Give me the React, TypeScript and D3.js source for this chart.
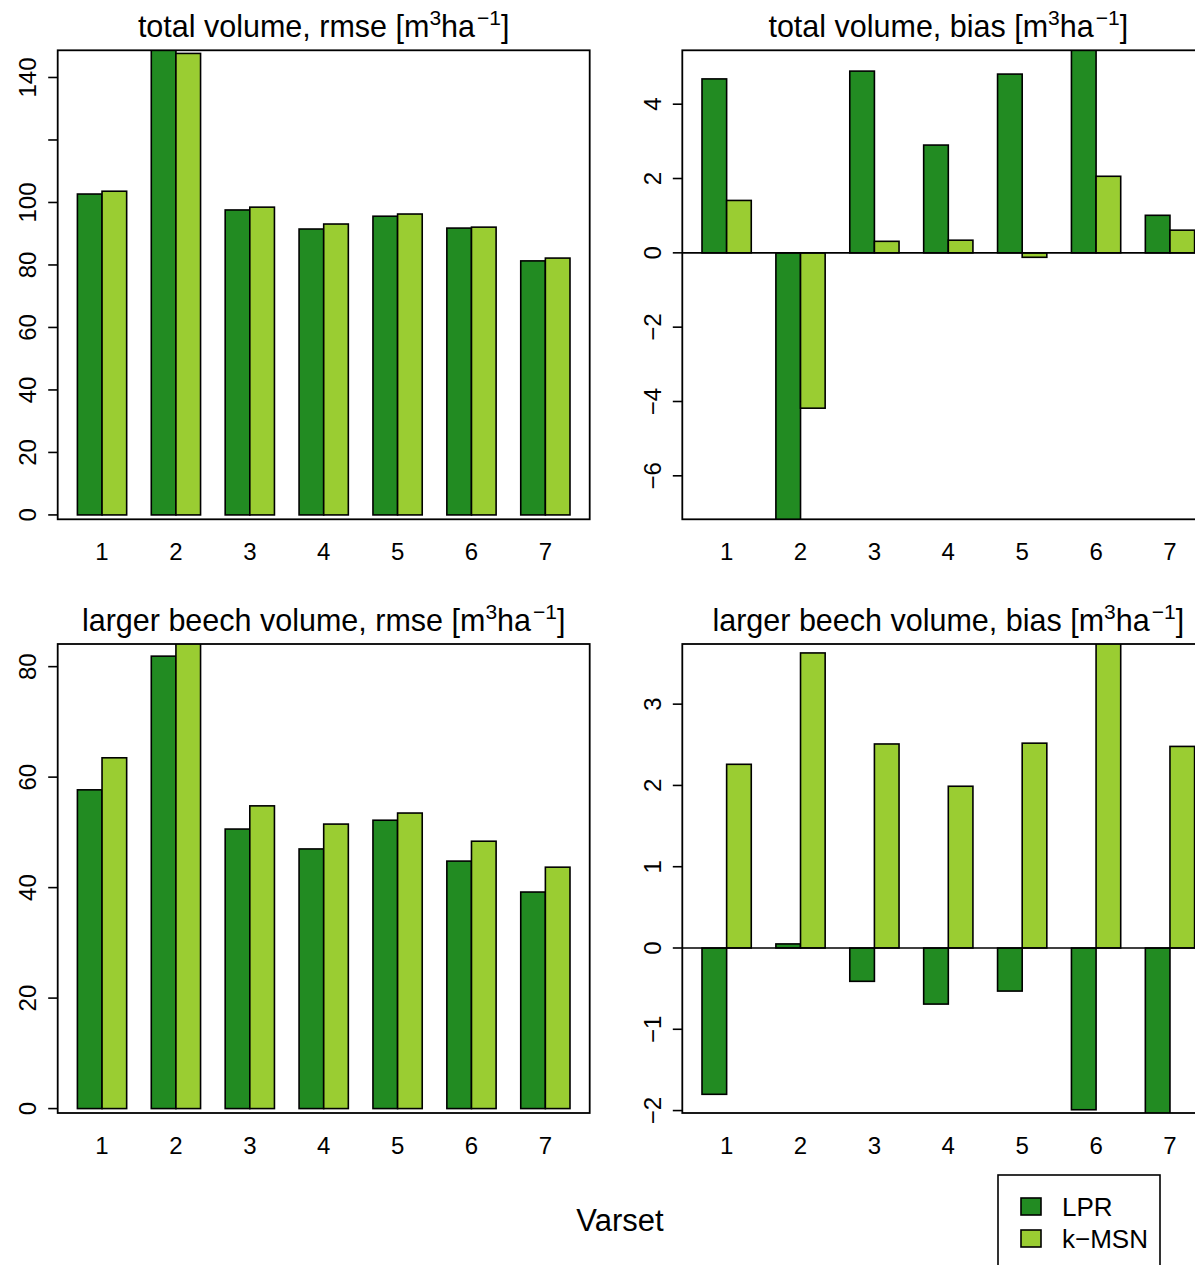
import React from "react";
import * as d3 from "d3";

const varsets = ["1", "2", "3", "4", "5", "6", "7"];
const seriesNames = ["LPR", "k−MSN"];
const seriesColors = ["#228B22", "#9ACD32"];

const totalRmseLPR = [102.7, 152, 97.6, 91.5, 95.6, 91.8, 81.3];
const totalRmseKMSN = [103.6, 147.7, 98.5, 93.1, 96.3, 92.1, 82.2];
const totalBiasLPR = [4.68, -7.6, 4.89, 2.9, 4.81, 5.7, 1.01];
const totalBiasKMSN = [1.41, -4.18, 0.31, 0.34, -0.12, 2.06, 0.61];
const beechRmseLPR = [57.7, 81.9, 50.6, 47.0, 52.2, 44.8, 39.2];
const beechRmseKMSN = [63.5, 86, 54.8, 51.5, 53.5, 48.4, 43.7];
const beechBiasLPR = [-1.8, 0.05, -0.41, -0.69, -0.53, -1.99, -2.1];
const beechBiasKMSN = [2.26, 3.63, 2.51, 1.99, 2.52, 3.9, 2.48];

const ticksTotalRmse = [0, 20, 40, 60, 80, 100, 120, 140];
const labelsTotalRmse = ["0", "20", "40", "60", "80", "100", "", "140"];
const ticksTotalBias = [-6, -4, -2, 0, 2, 4];
const labelsTotalBias = ["−6", "−4", "−2", "0", "2", "4"];
const ticksBeechRmse = [0, 20, 40, 60, 80];
const labelsBeechRmse = ["0", "20", "40", "60", "80"];
const ticksBeechBias = [-2, -1, 0, 1, 2, 3];
const labelsBeechBias = ["−2", "−1", "0", "1", "2", "3"];

const titleMains = [
  "total volume, rmse",
  "total volume, bias",
  "larger beech volume, rmse",
  "larger beech volume, bias",
];

const FONT = "'Liberation Sans', Arial, Helvetica, sans-serif";

const W = 1195;
const H = 1265;
const boxW = 532;
const boxH = 469;
const colLeft = [57.7, 682.3];
const rowTop = [50.3, 644];

type Panel = {
  left: number;
  top: number;
  ylim: [number, number];
  lpr: number[];
  kmsn: number[];
  ticks: number[];
  labels: string[];
  title: string;
  zeroLine: boolean;
};

const panels: Panel[] = [
  { left: colLeft[0], top: rowTop[0], ylim: [-1.4, 148.7], lpr: totalRmseLPR, kmsn: totalRmseKMSN, ticks: ticksTotalRmse, labels: labelsTotalRmse, title: titleMains[0], zeroLine: false },
  { left: colLeft[1], top: rowTop[0], ylim: [-7.17, 5.45], lpr: totalBiasLPR, kmsn: totalBiasKMSN, ticks: ticksTotalBias, labels: labelsTotalBias, title: titleMains[1], zeroLine: true },
  { left: colLeft[0], top: rowTop[1], ylim: [-0.8, 84.1], lpr: beechRmseLPR, kmsn: beechRmseKMSN, ticks: ticksBeechRmse, labels: labelsBeechRmse, title: titleMains[2], zeroLine: false },
  { left: colLeft[1], top: rowTop[1], ylim: [-2.03, 3.74], lpr: beechBiasLPR, kmsn: beechBiasKMSN, ticks: ticksBeechBias, labels: labelsBeechBias, title: titleMains[3], zeroLine: true },
];

function PanelView({ p, idx }: { p: Panel; idx: number }) {
  const x = d3.scaleLinear().domain([0.2, 21.8]).range([p.left, p.left + boxW]);
  const y = d3.scaleLinear().domain(p.ylim).range([p.top + boxH, p.top]);
  const clipId = `clip-${idx}`;
  const series = [p.lpr, p.kmsn];
  const cx = p.left + boxW / 2;
  return (
    <g>
      <defs>
        <clipPath id={clipId}>
          <rect x={p.left} y={p.top} width={boxW} height={boxH} />
        </clipPath>
      </defs>
      <g clipPath={`url(#${clipId})`}>
        {varsets.map((v, i) =>
          series.map((s, j) => {
            const x0 = x(3 * i + 1 + j);
            const x1 = x(3 * i + 2 + j);
            const y0 = y(0);
            const y1 = y(s[i]);
            return (
              <rect
                key={`${i}-${j}`}
                x={x0}
                y={Math.min(y0, y1)}
                width={x1 - x0}
                height={Math.abs(y1 - y0)}
                fill={seriesColors[j]}
                stroke="#000"
                strokeWidth={1.6}
              />
            );
          })
        )}
      </g>
      {p.zeroLine && (
        <line x1={p.left} x2={p.left + boxW} y1={y(0)} y2={y(0)} stroke="#000" strokeWidth={1.6} />
      )}
      <rect x={p.left} y={p.top} width={boxW} height={boxH} fill="none" stroke="#000" strokeWidth={1.8} />
      {p.ticks.map((t, i) => (
        <g key={i}>
          <line x1={p.left - 9.5} x2={p.left} y1={y(t)} y2={y(t)} stroke="#000" strokeWidth={1.6} />
          {p.labels[i] !== "" && (
            <text
              transform={`translate(${p.left - 21.5},${y(t)}) rotate(-90)`}
              textAnchor="middle"
              fontSize={24}
              fontFamily={FONT}
            >
              {p.labels[i]}
            </text>
          )}
        </g>
      ))}
      {varsets.map((v, i) => (
        <text key={v} x={x(3 * i + 2)} y={p.top + boxH + 41} textAnchor="middle" fontSize={24} fontFamily={FONT}>
          {v}
        </text>
      ))}
      <text x={cx} y={p.top - 13.5} textAnchor="middle" fontSize={30.5} fontFamily={FONT}>
        {p.title + " [m"}
        <tspan dy={-12} fontSize={21}>3</tspan>
        <tspan dy={12}>ha</tspan>
        <tspan dy={-12} fontSize={21} dx={2}>−1</tspan>
        <tspan dy={12}>]</tspan>
      </text>
    </g>
  );
}

export default function App() {
  return (
    <svg
      width={W}
      height={H}
      style={{ position: "absolute", left: 0, top: 0, display: "block", background: "#fff" }}
    >
      <rect x={0} y={0} width={W} height={H} fill="#fff" />
      {panels.map((p, i) => (
        <PanelView key={i} p={p} idx={i} />
      ))}
      <text x={620} y={1231} textAnchor="middle" fontSize={31} fontFamily={FONT}>
        Varset
      </text>
      <g>
        <rect x={998} y={1175} width={162} height={120} fill="#fff" stroke="#000" strokeWidth={1.6} />
        {seriesNames.map((n, i) => (
          <g key={n}>
            <rect x={1021} y={1198 + i * 32} width={20} height={17} fill={seriesColors[i]} stroke="#000" strokeWidth={1.6} />
            <text x={1062} y={1216 + i * 32} fontSize={26} fontFamily={FONT}>
              {n}
            </text>
          </g>
        ))}
      </g>
    </svg>
  );
}
